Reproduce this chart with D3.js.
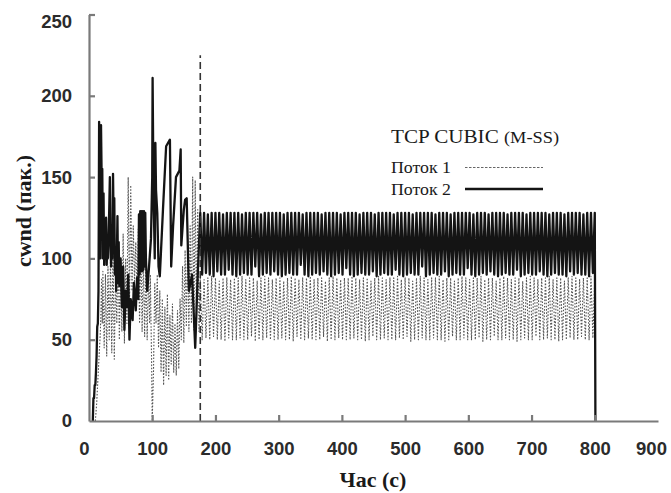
<!DOCTYPE html>
<html><head><meta charset="utf-8">
<script src="https://cdn.jsdelivr.net/npm/d3@7/dist/d3.min.js"></script>
<style>body{margin:0;background:#fff}</style>
</head><body>
<svg id="chart" width="671" height="493"></svg>
<script>
// ---- data ----
const xTicks = [0, 100, 200, 300, 400, 500, 600, 700, 800, 900];
const yTicks = [0, 50, 100, 150, 200, 250];

// Flow 2 (solid) — start-up phase
const flow2EarlyT = [6,7,8,9,10,11,12,13,14,15,15.5,16,17,18,19,20,21,22,23,24,25,26,27,28,29,30,32,33,34,35,36,37,38,39,40,41,42,43,44,45,46,47,48,50,52,54,56,58,60,62,64,66,69,71,74,76,78,79,80,81,82,83,84,85,86,87,88,89,90,92,95,98,100,100.6,102,104,105,106,108,110,112,117,122,128,130,133,137.6,143,145,146,150,152,154.5,158,163,168,172];
const flow2EarlyV = [0,14,14,22,22,30,40,58,60,80,130,184,130,100,182,150,155,100,140,96,115,100,125,96,110,100,130,150,110,95,120,100,152,120,137,90,105,80,100,126,85,110,83,100,70,95,56,80,70,90,50,75,62,85,68,88,75,127,90,129,92,129,92,129,93,129,95,128,100,80,95,112,150,211,142,100,171,142,128,95,89,130,169,173,95,120,150,154,167,108,130,136,137,80,90,45,90];

// Flow 1 (dotted) — start-up phase
const flow1EarlyT = [10,12,14,16,18,19,20,21,22,24,26,28,30,32,34,36,38,40,42,44,46,48,50,52,54,56,58,60,62,64,66,68,70,72,74,76,78,80,82,84,86,88,90,92,94,96,97,99,100,102,104,106,108,110,112,114,116,118,120,122,124,126,128,130,132,134,136,138,140,142,144,146,148,150,152,154,156,158,160,162,164,166,168,170,172,174];
const flow1EarlyV = [0,10,25,40,55,70,88,60,92,45,90,40,95,50,100,42,105,38,90,60,110,50,95,55,115,48,100,60,150,70,145,80,120,85,110,75,118,60,112,55,100,52,95,50,90,60,90,37,0,30,85,60,90,45,80,30,75,22,70,28,78,25,65,35,72,30,60,28,68,32,75,50,95,48,105,58,110,55,120,60,150,56,148,60,130,55];

// Steady phase: samples every 3 s starting at 176 s
const steadyStart = 176, steadyStep = 3;
const flow2SteadyV = [
128,90,128,91,127,90,128,89,128,92,128,90,127,90,128,93,128,90,128,89,
128,90,127,91,128,90,128,90,128,95,128,89,127,90,128,91,128,90,128,92,
128,90,128,89,127,90,128,91,128,90,128,90,128,96,127,90,128,89,128,90,
128,91,128,90,127,92,128,90,128,89,128,90,128,91,127,90,128,94,128,90,
128,89,128,90,127,91,128,90,128,90,128,92,127,89,128,90,128,91,128,90,
128,90,127,93,128,90,128,89,128,90,128,91,127,90,128,90,128,95,128,89,
128,90,128,91,127,90,128,90,128,92,128,89,127,90,128,91,128,90,128,90,
128,94,128,90,127,89,128,90,128,91,128,90,127,92,128,90,128,89,128,90,
128,91,127,90,128,90,128,93,128,89,128,90,127,91,128,90,128,90,128,92,
128,90,128,89,127,90,128,91,128,90,128,90,127,89,128,92,128,90,128,91,
128,90,127,90,128,89,128,91,128];
const flow1SteadyV = [
88,50,87,51,88,50,89,52,88,50,86,50,88,49,88,51,87,50,88,50,
88,51,89,50,87,50,88,52,88,49,86,50,88,50,89,51,88,50,87,50,
88,50,88,51,86,50,88,50,89,49,88,52,87,50,88,50,88,51,89,50,
87,50,88,50,88,52,86,49,88,50,89,50,88,51,87,50,88,50,88,50,
89,51,88,50,87,50,88,49,88,50,86,52,88,50,89,50,88,51,87,50,
88,50,88,50,89,51,87,50,88,52,88,49,86,50,88,50,89,51,88,50,
87,50,88,51,88,50,89,50,87,49,88,50,88,52,86,50,88,50,89,51,
88,50,87,50,88,50,88,51,89,49,87,50,88,50,88,52,86,50,88,50,
89,51,88,50,87,50,88,49,88,50,86,51,88,50,89,50,88,52,87,50,
88,50,88,51,89,50,87,50,88,49,88,50,86,50,88,51,89,50,88,50,
87,52,88,50,88,50,89,51,88];
const flow2EndT = [801];
const flow2EndV = [0];

const markerTime = 176, markerTop = 225;
const legendTitle = "TCP CUBIC";
const legendTitleSub = "(M-SS)";
const seriesNames = ["Поток 1", "Поток 2"];
const xTitle = "Час (с)";
const yTitle = "cwnd (пак.)";

// ---- build series ----
function zip(ts, vs) { return ts.map((t, i) => ({t: t, v: vs[i]})); }
const flow2 = zip(flow2EarlyT, flow2EarlyV)
  .concat(flow2SteadyV.map((v, i) => ({t: steadyStart + i * steadyStep, v: v})))
  .concat(zip(flow2EndT, flow2EndV));
const flow1 = zip(flow1EarlyT, flow1EarlyV)
  .concat(flow1SteadyV.map((v, i) => ({t: steadyStart + i * steadyStep, v: v})));

// ---- scales ----
const svg = d3.select("#chart");
const x = d3.scaleLinear().domain([0, 900]).range([89, 658]);
const y = d3.scaleLinear().domain([0, 250]).range([421, 14.5]);

const line = d3.line().x(d => x(d.t)).y(d => y(d.v));

// flow 1 dotted
svg.append("path").datum(flow1)
  .attr("d", line).attr("fill", "none")
  .attr("stroke", "#555").attr("stroke-width", 1.1)
  .attr("stroke-dasharray", "1.6,1.6")
  .attr("stroke-linejoin", "round");

// flow 2 solid
svg.append("path").datum(flow2)
  .attr("d", line).attr("fill", "none")
  .attr("stroke", "#141414").attr("stroke-width", 2.3)
  .attr("stroke-linejoin", "round");

// vertical dashed marker
svg.append("line")
  .attr("x1", x(markerTime)).attr("x2", x(markerTime))
  .attr("y1", y(0)).attr("y2", y(markerTop))
  .attr("stroke", "#333").attr("stroke-width", 1.6)
  .attr("stroke-dasharray", "7,4");

// ---- axes ----
const axisColor = "#7a7a7a";
const xAxis = svg.append("g").attr("transform", `translate(0,${y(0)})`)
  .call(d3.axisBottom(x).tickValues(xTicks).tickSizeInner(-6).tickSizeOuter(0).tickPadding(21));
const yAxis = svg.append("g").attr("transform", `translate(${x(0)},0)`)
  .call(d3.axisLeft(y).tickValues(yTicks).tickSizeInner(-6).tickSizeOuter(0).tickPadding(17));
[xAxis, yAxis].forEach(g => {
  g.select(".domain").attr("stroke", axisColor).attr("stroke-width", 2.2);
  g.selectAll(".tick line").attr("stroke", axisColor).attr("stroke-width", 2.2);
  g.selectAll(".tick text")
    .attr("fill", "#2b2b2b")
    .style("font-family", "Arial, 'Liberation Sans', sans-serif")
    .style("font-weight", "bold").style("font-size", "18.5px");
});
xAxis.selectAll(".tick line").filter(d => d === 0 || d === 900).attr("display", "none");
yAxis.selectAll(".tick line").filter(d => d === 0).attr("display", "none");
// label nudges as in the reference
xAxis.selectAll(".tick text").filter(d => d === 0).attr("dx", -5);
xAxis.selectAll(".tick text").filter(d => d === 900).attr("dx", -7);
yAxis.selectAll(".tick text").filter(d => d === 250).attr("y", 7);

// axis titles
const serif = "'Liberation Serif', 'Times New Roman', serif";
svg.append("text").text(xTitle)
  .attr("x", 373).attr("y", 487).attr("text-anchor", "middle")
  .style("font-family", serif).style("font-weight", "bold").style("font-size", "22px")
  .attr("fill", "#1a1a1a");
svg.append("text").text(yTitle)
  .attr("transform", "translate(31,211) rotate(-90)").attr("text-anchor", "middle")
  .style("font-family", serif).style("font-weight", "bold").style("font-size", "22px")
  .attr("fill", "#1a1a1a");

// ---- legend ----
const lg = svg.append("g").style("font-family", serif).attr("fill", "#1a1a1a");
const t0 = lg.append("text").attr("x", 391).attr("y", 143)
  .attr("textLength", 168).attr("lengthAdjust", "spacingAndGlyphs")
  .style("font-size", "19px");
t0.append("tspan").text(legendTitle + " ");
t0.append("tspan").text(legendTitleSub).style("font-size", "16.5px");
lg.append("text").text(seriesNames[0]).attr("x", 391).attr("y", 173)
  .attr("textLength", 60).attr("lengthAdjust", "spacingAndGlyphs").style("font-size", "16.5px");
lg.append("text").text(seriesNames[1]).attr("x", 391).attr("y", 195)
  .attr("textLength", 60).attr("lengthAdjust", "spacingAndGlyphs").style("font-size", "16.5px");
lg.append("line").attr("x1", 465).attr("x2", 543).attr("y1", 167.5).attr("y2", 167.5)
  .attr("stroke", "#666").attr("stroke-width", 1.1).attr("stroke-dasharray", "2.5,1.5");
lg.append("line").attr("x1", 465).attr("x2", 543).attr("y1", 189).attr("y2", 189)
  .attr("stroke", "#141414").attr("stroke-width", 2.3);
</script>
</body></html>
